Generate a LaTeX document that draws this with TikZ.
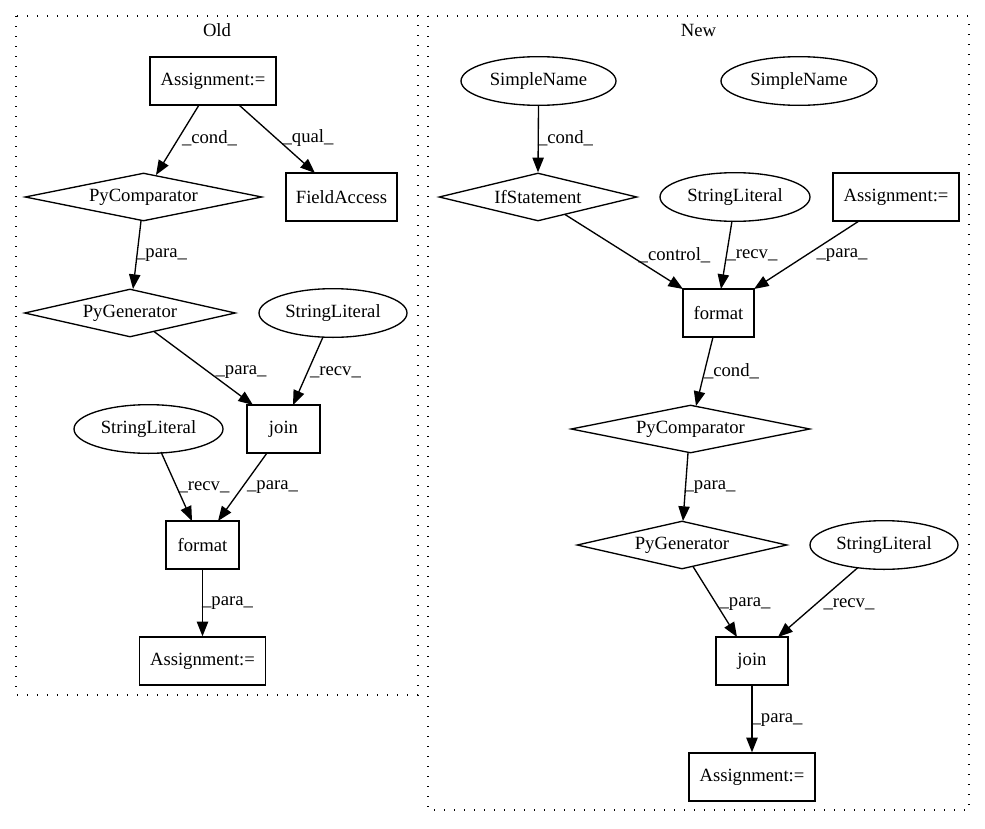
\documentclass[tikz,border=0pt]{standalone}
\usepackage{fontspec}
\setmainfont{Liberation Serif}
\usetikzlibrary{shapes.geometric,arrows.meta,calc}
\newcommand\zb[1]{\makebox[0pt]{#1}}
\begin{document}
\begin{tikzpicture}[x=0.75pt,y=-0.75pt,
  font=\fontsize{14}{16}\selectfont, line width=1pt,
  bx/.style={draw,rectangle,inner sep=0pt,minimum width=#1*0.75pt,minimum height=36pt},
  dm/.style={draw,diamond,aspect=4,inner sep=0pt,minimum width=#1*0.75pt,minimum height=36pt},
  el/.style={draw,ellipse,inner sep=0pt,minimum width=#1*0.75pt,minimum height=36.5pt},
  lbl/.style={inner sep=0pt},
  clu/.style={draw,line width=1.1pt,dash pattern=on 1.1pt off 6.4pt},
  arr/.style={-{Triangle[length=11pt,width=8.5pt]}}]
\useasboundingbox (0,0) rectangle (985,828);
% clusters
\draw[clu] (16,16) rectangle (418,695);
\draw[clu] (428,16) rectangle (969,810);
\node[lbl] (told) at (217,30) {Old};
\node[lbl] (tnew) at (698.5,30) {New};
% ---------- Old ----------
\node[bx=126] (a1) at (213,81) {\zb{Assignment:=}};
\node[dm=237] (pc1) at (143.5,197) {\zb{PyComparator}};
\node[bx=111] (fa) at (341.5,197) {\zb{FieldAccess}};
\node[dm=211] (pg1) at (130,313) {\zb{PyGenerator}};
\node[el=148] (sl1) at (333,313) {\zb{StringLiteral}};
\node[bx=73] (j1) at (283.5,429) {\zb{join}};
\node[el=149] (sl2) at (148.5,429) {\zb{StringLiteral}};
\node[bx=73] (f1) at (202.5,545) {\zb{format}};
\node[bx=126] (a2) at (202.5,661) {\zb{Assignment:=}};
\draw[arr] ($(a1.center)+(-14,24)$) -- ($(pc1.center)+(12.5,-22)$);
\draw[arr] ($(a1.center)+(26,24)$) -- ($(fa.center)+(-26.5,-24)$);
\draw[arr] ($(pc1.center)+(-2.5,24)$) -- ($(pg1.center)+(3,-24)$);
\draw[arr] ($(pg1.center)+(24,18.5)$) -- ($(j1.center)+(-30.5,-24)$);
\draw[arr] ($(sl1.center)+(-10,24)$) -- ($(j1.center)+(9.5,-24)$);
\draw[arr] ($(sl2.center)+(12.5,23)$) -- ($(f1.center)+(-10.5,-24)$);
\draw[arr] ($(j1.center)+(-16.5,24)$) -- ($(f1.center)+(15.5,-24)$);
\draw[arr] (f1.south) -- (a2.north);
\node[lbl] (l1) at (209.5,138) {\_cond\_};
\node[lbl] (l2) at (308,138) {\_qual\_};
\node[lbl] (l3) at (161.5,255) {\_para\_};
\node[lbl] (l4) at (241,372) {\_para\_};
\node[lbl] (l5) at (335.5,372) {\_recv\_};
\node[lbl] (l6) at (204,487) {\_recv\_};
\node[lbl] (l7) at (272.5,487) {\_para\_};
\node[lbl] (l8) at (227.5,603) {\_para\_};
% ---------- New ----------
\node[el=155] (sn1) at (538.5,81) {\zb{SimpleName}};
\node[el=156] (sn2) at (799,81) {\zb{SimpleName}};
\node[dm=198] (ifs) at (538,197) {\zb{IfStatement}};
\node[el=150] (sl3) at (735,197) {\zb{StringLiteral}};
\node[bx=126] (a3) at (896,197) {\zb{Assignment:=}};
\node[bx=71] (f2) at (718.5,313) {\zb{format}};
\node[dm=239] (pc2) at (690.5,429) {\zb{PyComparator}};
\node[dm=210] (pg2) at (682,545) {\zb{PyGenerator}};
\node[el=148] (sl4) at (884,545) {\zb{StringLiteral}};
\node[bx=72] (j2) at (752,661) {\zb{join}};
\node[bx=126] (a4) at (752,777) {\zb{Assignment:=}};
\draw[arr] (sn1.south) -- (ifs.north);
\draw[arr] ($(ifs.center)+(27,17.5)$) -- ($(f2.center)+(-35.5,-24)$);
\draw[arr] ($(sl3.center)+(-3,24)$) -- ($(f2.center)+(2.5,-24)$);
\draw[arr] ($(a3.center)+(-37,24)$) -- ($(f2.center)+(35.5,-24)$);
\draw[arr] ($(f2.center)+(-5.5,24)$) -- ($(pc2.center)+(5.5,-23)$);
\draw[arr] ($(pc2.center)+(-2.5,24)$) -- ($(pg2.center)+(1,-24)$);
\draw[arr] ($(pg2.center)+(11,21.5)$) -- ($(j2.center)+(-15,-24)$);
\draw[arr] ($(sl4.center)+(-26,22.5)$) -- ($(j2.center)+(26,-24)$);
\draw[arr] (j2.south) -- (a4.north);
\node[lbl] (m1) at (565.5,138) {\_cond\_};
\node[lbl] (m2) at (674.5,255) {\_control\_};
\node[lbl] (m3) at (752,255) {\_recv\_};
\node[lbl] (m4) at (842,255) {\_para\_};
\node[lbl] (m5) at (731.5,371) {\_cond\_};
\node[lbl] (m6) at (710,487) {\_para\_};
\node[lbl] (m7) at (745,604) {\_para\_};
\node[lbl] (m8) at (849,604) {\_recv\_};
\node[lbl] (m9) at (777,720) {\_para\_};
\end{tikzpicture}
\end{document}
